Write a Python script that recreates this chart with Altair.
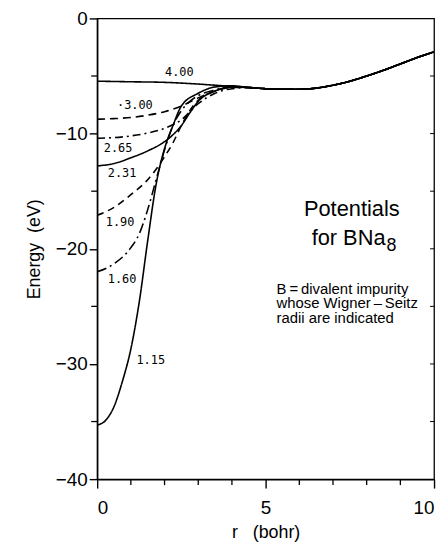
import altair as alt
import pandas as pd

# common tail shared by all potentials (r >= 4.5 bohr)
TAIL_R = [4.5, 5.0, 5.5, 6.0, 6.5, 7.0, 7.5, 8.0, 8.5, 9.0, 9.5, 10.0]
TAIL_E = [-6.0, -6.1, -6.15, -6.15, -6.05, -5.8, -5.45, -5.0, -4.5, -3.95, -3.4, -2.9]

R_400 = [0, 1, 2, 3, 3.5, 4]
E_400 = [-5.45, -5.5, -5.55, -5.7, -5.8, -5.9]

R_300 = [0, 0.5, 1, 1.5, 2, 2.5, 3, 3.5, 4]
E_300 = [-8.75, -8.7, -8.6, -8.4, -8.1, -7.6, -6.9, -6.3, -6.0]

R_265 = [0, 0.5, 1, 1.5, 2, 2.5, 3, 3.5, 4]
E_265 = [-10.4, -10.35, -10.2, -9.95, -9.55, -8.8, -7.4, -6.5, -6.1]

R_231 = [0, 0.5, 1, 1.5, 2, 2.25, 2.5, 2.75, 3, 3.5, 4]
E_231 = [-12.8, -12.6, -12.1, -11.5, -10.7, -10.1, -9.3, -8.2, -7.2, -6.3, -5.95]

R_190 = [0, 0.5, 1, 1.5, 1.75, 2, 2.25, 2.5, 2.75, 3, 3.5, 4]
E_190 = [-17.1, -16.4, -15.3, -14.0, -13.1, -12.0, -10.8, -9.3, -8.0, -7.1, -6.3, -5.95]

R_160 = [0, 0.5, 1, 1.25, 1.5, 1.75, 2, 2.25, 2.5, 2.75, 3, 3.5, 4]
E_160 = [-22.0, -21.3, -19.9, -18.7, -16.6, -14.0, -11.4, -9.3, -8.0, -7.2, -6.7, -6.2, -5.95]

R_115 = [0, 0.25, 0.5, 0.75, 1, 1.25, 1.5, 1.75, 2, 2.25, 2.5, 3, 3.5, 4]
E_115 = [-35.3, -34.9, -33.7, -31.5, -28.7, -24.6, -19.3, -14.4, -11.3, -9.3, -7.6, -6.5, -5.95, -5.85]

CURVES = [
    ("4.00", R_400, E_400, [1, 0]),
    ("3.00", R_300, E_300, [8, 5]),
    ("2.65", R_265, E_265, [8, 4, 2, 4]),
    ("2.31", R_231, E_231, [1, 0]),
    ("1.90", R_190, E_190, [7, 5]),
    ("1.60", R_160, E_160, [10, 4, 2, 4]),
    ("1.15", R_115, E_115, [1, 0]),
]

LABEL_TEXT = ["4.00", "·3.00", "2.65", "2.31", "1.90", "1.60", "1.15"]
LABEL_R = [2.44, 1.12, 0.62, 0.74, 0.68, 0.74, 1.59]
LABEL_E = [-4.64, -7.48, -11.26, -13.4, -17.7, -22.6, -29.7]

NOTE_LINES = ["B\u2009=\u2009divalent impurity", "whose Wigner\u2009\u2013\u2009Seitz", "radii are indicated"]
NOTE_Y = [273, 287, 302]

X_MAJOR = [0, 5, 10]
X_MINOR = [1, 2, 3, 4, 6, 7, 8, 9]
Y_MAJOR = [-40, -30, -20, -10, 0]
Y_MINOR = [-35, -25, -15, -5]
Y_RIGHT = [-35, -30, -25, -20, -15, -10, -5]

FONT = "Liberation Sans"
NB = "\u00a0"
H = 465

xscale = alt.Scale(domain=[0, 10], nice=False, zero=False)
yscale = alt.Scale(domain=[-40, 0], nice=False, zero=False)

xaxis = alt.Axis(values=X_MAJOR, labelOverlap=False,
                 title="r" + NB * 3 + "(bohr)", grid=False, tickSize=9, tickColor="black",
                 domainColor="black", domainWidth=1.5, tickWidth=1.4,
                 labelFont=FONT, labelFontSize=19, labelColor="black", labelPadding=11,
                 titleFont=FONT, titleFontSize=18, titleFontWeight="normal",
                 titleColor="black", titlePadding=6)
yaxis = alt.Axis(values=Y_MAJOR, labelOverlap=False,
                 labelExpr="datum.value < 0 ? '\u2212' + abs(datum.value) : '0'",
                 title="Energy" + NB * 2 + "(eV)", grid=False, tickSize=8, tickColor="black",
                 domainColor="black", domainWidth=1.5, tickWidth=1.4,
                 labelFont=FONT, labelFontSize=19, labelColor="black", labelPadding=2,
                 titleFont=FONT, titleFontSize=18, titleFontWeight="normal",
                 titleColor="black", titlePadding=12)


def X(field):
    return alt.X(field, type="quantitative", scale=xscale, axis=xaxis)


def Y(field):
    return alt.Y(field, type="quantitative", scale=yscale, axis=yaxis)


layers = []
for name, rr, ee, dash in CURVES:
    df = pd.DataFrame({"r": list(rr) + TAIL_R, "E": list(ee) + TAIL_E})
    layers.append(alt.Chart(df).mark_line(
        color="black", strokeWidth=1.6, strokeDash=dash, interpolate="monotone", clip=True
    ).encode(x=X("r"), y=Y("E")))

lab_df = pd.DataFrame({"t": LABEL_TEXT, "r": LABEL_R, "E": LABEL_E})
layers.append(alt.Chart(lab_df).mark_text(
    font="DejaVu Sans Mono", fontSize=12, color="black").encode(x=X("r"), y=Y("E"), text="t:N"))

# minor tick marks (bottom, left outward; right inward)
layers.append(alt.Chart(pd.DataFrame({"v": X_MINOR})).mark_rule(
    color="black", strokeWidth=1.3).encode(x=X("v"), y=alt.value(H), y2=alt.value(H + 6)))
layers.append(alt.Chart(pd.DataFrame({"v": Y_MINOR})).mark_rule(
    color="black", strokeWidth=1.3).encode(y=Y("v"), x=alt.value(-6), x2=alt.value(0)))
layers.append(alt.Chart(pd.DataFrame({"v": Y_RIGHT})).mark_rule(
    color="black", strokeWidth=1.0).encode(y=Y("v"), x=alt.value(336), x2=alt.value(340)))

title1 = alt.Chart(pd.DataFrame({"t": ["Potentials"]})).mark_text(
    font=FONT, fontSize=22, color="black", align="center").encode(
    x=alt.value(257), y=alt.value(192), text="t:N")
title2 = alt.Chart(pd.DataFrame({"t": ["for BNa"]})).mark_text(
    font=FONT, fontSize=22, color="black", align="right").encode(
    x=alt.value(291), y=alt.value(222), text="t:N")
title2b = alt.Chart(pd.DataFrame({"t": ["8"]})).mark_text(
    font=FONT, fontSize=18, color="black", align="left").encode(
    x=alt.value(292), y=alt.value(230), text="t:N")
layers += [title1, title2, title2b]
for line, yy in zip(NOTE_LINES, NOTE_Y):
    layers.append(alt.Chart(pd.DataFrame({"t": [line]})).mark_text(
        font=FONT, fontSize=15, color="black", align="left").encode(
        x=alt.value(181), y=alt.value(yy), text="t:N"))

chart = alt.layer(*layers).properties(
    width=340, height=H,
    autosize=alt.AutoSizeParams(type="none"),
    padding={"left": 90, "top": 8, "right": 5, "bottom": 70},
).configure_view(stroke="black", strokeWidth=1.3)

chart.save("out.html", embed_options={"renderer": "svg", "actions": False})
